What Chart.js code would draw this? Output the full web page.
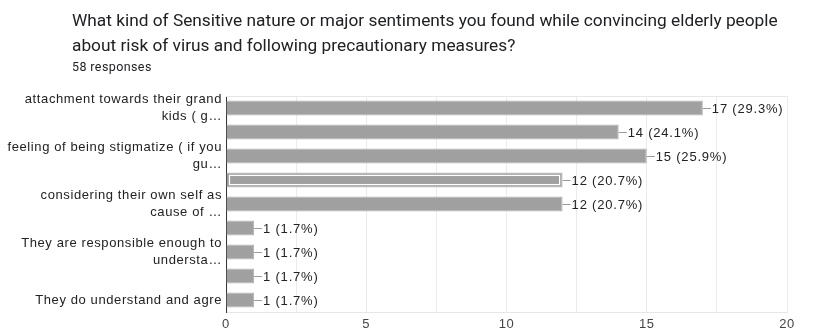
<!DOCTYPE html>
<html>
<head>
<meta charset="utf-8">
<script src="https://cdn.jsdelivr.net/npm/chart.js@4.4.1/dist/chart.umd.min.js"></script>
<style>
  html, body { margin: 0; padding: 0; background: #fff; }
  #wrap { position: relative; width: 821px; height: 333px; overflow: hidden; }
  #title { position: absolute; left: 72px; top: 8px; font-family: Roboto, "Noto Sans", sans-serif; font-size: 17.3px; line-height: 25px; color: #202124; white-space: nowrap; }
  #sub { position: absolute; left: 72px; top: 59px; font-family: Roboto, "Noto Sans", sans-serif; font-size: 12.5px; letter-spacing: 0.4px; color: #202124; }
  canvas { position: absolute; left: 0; top: 0; }
</style>
</head>
<body>
<div id="wrap">
  <canvas id="c" width="821" height="333"></canvas>
  <div id="title">What kind of Sensitive nature or major sentiments you found while convincing elderly people<br>about risk of virus and following precautionary measures?</div>
  <div id="sub">58 responses</div>
</div>
<script>
const categories = [
  ['attachment towards their grand', 'kids ( g…'],
  '',
  ['feeling of being stigmatize ( if you', 'gu…'],
  '',
  ['considering their own self as', 'cause of …'],
  '',
  ['They are responsible enough to', 'understa…'],
  '',
  'They do understand and agre'
];
const counts = [17, 14, 15, 12, 12, 1, 1, 1, 1];
const percents = ['29.3%', '24.1%', '25.9%', '20.7%', '20.7%', '1.7%', '1.7%', '1.7%', '1.7%'];
const xTicks = [0, 5, 10, 15, 20];
const highlightedIndex = 3;

const decor = {
  id: 'decor',
  beforeDraw(chart) {
    chart.ctx.letterSpacing = '0.6px';
  },
  beforeDatasetsDraw(chart) {
    const a = chart.chartArea, ctx = chart.ctx;
    ctx.save();
    ctx.strokeStyle = '#e6e6e6';
    ctx.lineWidth = 1;
    ctx.beginPath();
    ctx.moveTo(a.left, a.top + 0.5);
    ctx.lineTo(a.right, a.top + 0.5);
    ctx.stroke();
    ctx.restore();
  },
  afterDatasetsDraw(chart) {
    const ctx = chart.ctx;
    const meta = chart.getDatasetMeta(0);
    ctx.save();
    meta.data.forEach((bar, i) => {
      const p = bar.getProps(['x', 'y', 'base', 'height'], true);
      if (i === highlightedIndex) {
        ctx.strokeStyle = '#ffffff';
        ctx.lineWidth = 1.2;
        const t = p.height / 2;
        ctx.strokeRect(p.base + 3, p.y - t + 3, p.x - p.base - 6, p.height - 6);
      }
      ctx.strokeStyle = '#9a9a9a';
      ctx.lineWidth = 1;
      ctx.beginPath();
      ctx.moveTo(p.x, Math.round(p.y) + 0.5);
      ctx.lineTo(p.x + 8, Math.round(p.y) + 0.5);
      ctx.stroke();
      ctx.fillStyle = '#222';
      ctx.letterSpacing = '0.8px';
      ctx.font = '13px "Liberation Sans", Arial, sans-serif';
      ctx.textAlign = 'left';
      ctx.textBaseline = 'middle';
      ctx.fillText(counts[i] + ' (' + percents[i] + ')', p.x + 9, p.y + 1);
    });
    ctx.restore();
  },
  afterDraw(chart) {
    chart.ctx.letterSpacing = '0px';
  }
};

new Chart(document.getElementById('c'), {
  type: 'bar',
  data: {
    labels: categories,
    datasets: [{
      data: counts,
      backgroundColor: '#a0a0a0',
      borderColor: '#b4b4b4',
      borderWidth: 1,
      barPercentage: 0.63,
      categoryPercentage: 1.0
    }]
  },
  options: {
    indexAxis: 'y',
    responsive: false,
    animation: false,
    events: [],
    layout: { padding: { top: 96, right: 34, bottom: 0, left: 0 } },
    plugins: { legend: { display: false }, tooltip: { enabled: false } },
    scales: {
      x: {
        min: 0, max: 20,
        afterFit(s) { s.height = 21; },
        ticks: {
          stepSize: 2.5,
          padding: 5,
          color: '#444',
          font: { family: '"Liberation Sans", Arial, sans-serif', size: 13 },
          callback(v) { return xTicks.includes(v) ? String(v) : ''; },
          maxRotation: 0,
          autoSkip: false
        },
        grid: { color: '#ebebeb', drawTicks: false },
        border: { color: '#e6e6e6' }
      },
      y: {
        afterFit(s) { s.width = 226; },
        ticks: {
          padding: 4,
          color: '#222',
          autoSkip: false,
          font: { family: '"Liberation Sans", Arial, sans-serif', size: 13, lineHeight: 1.25 }
        },
        grid: { display: false, drawTicks: false },
        border: { color: '#333', width: 1 }
      }
    }
  },
  plugins: [decor]
});
</script>
</body>
</html>
